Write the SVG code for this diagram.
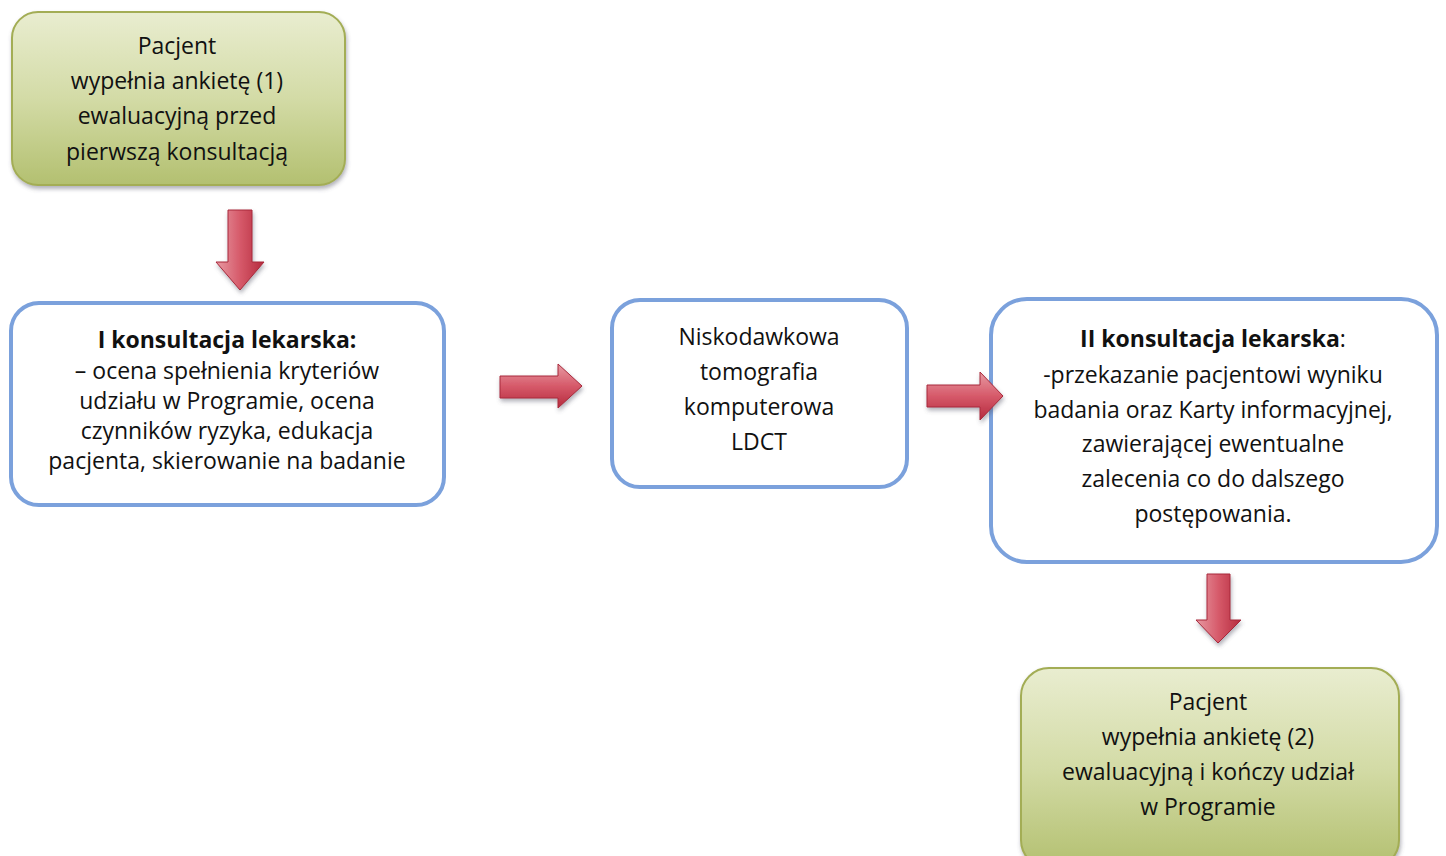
<svg xmlns="http://www.w3.org/2000/svg" width="1446" height="856" viewBox="0 0 1446 856">
<defs>
<linearGradient id="gGreen" x1="0" y1="0" x2="0" y2="1">
<stop offset="0" stop-color="#e9edd0"/>
<stop offset="0.5" stop-color="#d3dba6"/>
<stop offset="1" stop-color="#b3c070"/>
</linearGradient>
<linearGradient id="gRedV" x1="0" y1="0" x2="1" y2="0">
<stop offset="0" stop-color="#e79aa3"/>
<stop offset="0.5" stop-color="#d65a6a"/>
<stop offset="1" stop-color="#b52a3d"/>
</linearGradient>
<linearGradient id="gRedH" x1="0" y1="0" x2="0" y2="1">
<stop offset="0" stop-color="#e79aa3"/>
<stop offset="0.5" stop-color="#d65a6a"/>
<stop offset="1" stop-color="#b52a3d"/>
</linearGradient>
<filter id="sh" x="-10%" y="-10%" width="120%" height="130%">
<feDropShadow dx="1" dy="3" stdDeviation="2" flood-color="#556" flood-opacity="0.45"/>
</filter>
</defs>
<style>
text{font-family:"Open Sans","Liberation Sans",sans-serif;font-size:23px;fill:#111;text-anchor:middle}
.b{font-weight:bold}
.green{fill:url(#gGreen);stroke:#a3ad55;stroke-width:2}
.blue{fill:#fff;stroke:#7ba1dc;stroke-width:4}
.arrV{fill:url(#gRedV);stroke:#a8283a;stroke-width:1}
.arrH{fill:url(#gRedH);stroke:#a8283a;stroke-width:1}
</style>
<rect width="1446" height="856" fill="#fff"/>
<g id="n1">
<rect class="green" filter="url(#sh)" x="12" y="12" width="333" height="173" rx="26"/>
<text x="177" y="54">Pacjent</text>
<text x="177" y="89">wypełnia ankietę (1)</text>
<text x="177" y="124">ewaluacyjną przed</text>
<text x="177" y="160">pierwszą konsultacją</text>
</g>
<g id="n2">
<rect class="blue" x="11" y="303" width="433" height="202" rx="28"/>
<text x="227" y="348" class="b">I konsultacja lekarska:</text>
<text x="227" y="379">– ocena spełnienia kryteriów</text>
<text x="227" y="409">udziału w Programie, ocena</text>
<text x="227" y="439">czynników ryzyka, edukacja</text>
<text x="227" y="469">pacjenta, skierowanie na badanie</text>
</g>
<g id="n3">
<rect class="blue" x="612" y="300" width="295" height="187" rx="28"/>
<text x="759" y="345">Niskodawkowa</text>
<text x="759" y="380">tomografia</text>
<text x="759" y="415">komputerowa</text>
<text x="759" y="450">LDCT</text>
</g>
<g id="n4">
<rect class="blue" x="991" y="299" width="446" height="263" rx="36"/>
<text x="1213" y="347"><tspan class="b">II konsultacja lekarska</tspan>:</text>
<text x="1213" y="383">-przekazanie pacjentowi wyniku</text>
<text x="1213" y="418">badania oraz Karty informacyjnej,</text>
<text x="1213" y="452">zawierającej ewentualne</text>
<text x="1213" y="487">zalecenia co do dalszego</text>
<text x="1213" y="522">postępowania.</text>
</g>
<g id="n5">
<rect class="green" filter="url(#sh)" x="1021" y="668" width="378" height="200" rx="28"/>
<text x="1208" y="710">Pacjent</text>
<text x="1208" y="745">wypełnia ankietę (2)</text>
<text x="1208" y="780">ewaluacyjną i kończy udział</text>
<text x="1208" y="815">w Programie</text>
</g>
<g id="connectors">
<path class="arrV" filter="url(#sh)" d="M228,210 H252 V262 H264 L240,290 L216,262 H228 Z"/>
<path class="arrH" filter="url(#sh)" d="M500,376 H558 V364 L582,386 L558,408 V398 H500 Z"/>
<path class="arrH" filter="url(#sh)" d="M927,385 H980 V372 L1003,396 L980,420 V407 H927 Z"/>
<path class="arrV" filter="url(#sh)" d="M1207,574 H1230 V620 H1241 L1218,643 L1196,620 H1207 Z"/>
</g>
</svg>
